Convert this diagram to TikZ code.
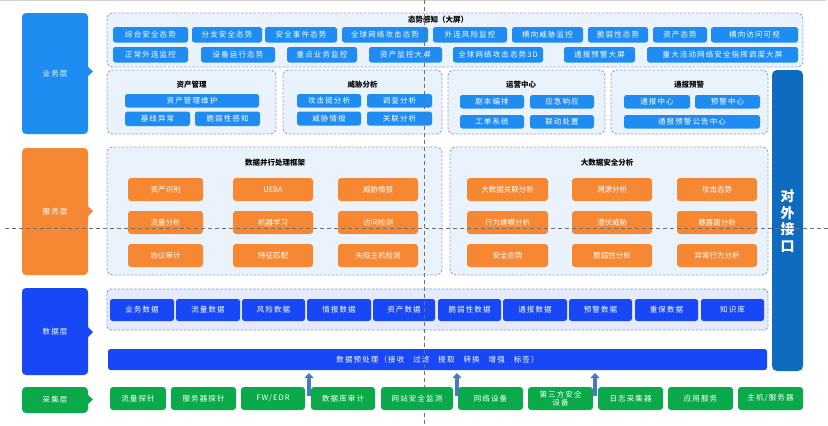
\documentclass[tikz,border=0pt]{standalone}
\usepackage{fontspec}
\setmainfont{Noto Sans CJK SC}
\newfontfamily\cjks[LetterSpace=15]{Noto Sans CJK SC}
\usetikzlibrary{arrows.meta}
\definecolor{tb}{HTML}{1E8CF0}
\definecolor{gfill}{HTML}{EAF3FC}
\definecolor{gdash}{HTML}{8EA9DB}
\definecolor{org}{HTML}{F78833}
\definecolor{db}{HTML}{1848F5}
\definecolor{dfill}{HTML}{E6EBFB}
\definecolor{ddash}{HTML}{7F98EE}
\definecolor{grn}{HTML}{0AAA4B}
\definecolor{itf}{HTML}{0E6BBE}
\definecolor{arr}{HTML}{4A78C2}
\definecolor{guide}{HTML}{707070}
\newcommand{\bx}[7]{%
  \pgfmathsetmacro{\bw}{#4-#2}\pgfmathsetmacro{\bh}{#5-#3}%
  \pgfmathsetmacro{\cxx}{(#2+#4)/2}\pgfmathsetmacro{\cyy}{(#3+#5)/2}%
  \node[#6, minimum width=\bw pt, minimum height=\bh pt] (#1) at (\cxx,\cyy) {#7};}
\tikzset{
  grp/.style={draw=gdash, dash pattern=on 2.5pt off 1.6pt, line width=0.9pt, fill=gfill, rounded corners=6pt, inner sep=0pt},
  dgrp/.style={draw=ddash, dash pattern=on 2.5pt off 1.6pt, line width=0.9pt, fill=dfill, rounded corners=4pt, inner sep=0pt},
  wtxt/.style={text=white, inner sep=0pt, align=center, font=\cjks\fontsize{7.5}{8.5}\selectfont},
  bb/.style={wtxt, fill=tb, rounded corners=2.5pt},
  ob/.style={fill=org, rounded corners=3pt, text=white, inner sep=0pt, font=\fontsize{7.5}{8.5}\selectfont},
  dbx/.style={wtxt, fill=db, rounded corners=2.5pt},
  gb/.style={wtxt, fill=grn, rounded corners=3pt},
  lay/.style={wtxt, rounded corners=4pt},
  ttl/.style={text=black, inner sep=0pt, font=\bfseries\fontsize{7.5}{8.5}\selectfont},
  uparrow/.style={draw=arr, line width=4pt, -{Triangle[width=9pt,length=5pt]}},
  guideline/.style={draw=guide, line width=0.9pt, dash pattern=on 4pt off 3pt}
}
\begin{document}
\begin{tikzpicture}[x=1pt,y=-1pt]
\useasboundingbox (0,0) rectangle (828,426);
\fill[white] (0,0) rectangle (828,426);
\fill[black!17] (0,0) rectangle (826,1.3);

% ---------- left layer labels ----------
\bx{L1}{22}{13}{88}{134}{lay, fill=tb}{业务层}
\fill[tb] (87,66) -- (93,71.5) -- (87,77) -- cycle;
\bx{L2}{22}{148}{88}{275}{lay, fill=org}{服务层}
\fill[org] (87,205) -- (93,211) -- (87,217) -- cycle;
\bx{L3}{22}{288}{88}{375}{lay, fill=db}{数据层}
\fill[db] (87,326) -- (93,332) -- (87,338) -- cycle;
\bx{L4}{22}{387}{88}{413}{lay, fill=grn}{采集层}
\fill[grn] (87,394) -- (93,399.5) -- (87,405) -- cycle;

% ---------- 对外接口 ----------
\bx{IF}{772}{70}{803}{371}{fill=itf, rounded corners=5pt, inner sep=0pt}{}
\node[text=white, align=center, font=\bfseries\fontsize{14}{16.7}\selectfont, inner sep=0pt] (IFt) at (787.5,221) {对\\外\\接\\口};

% ---------- 态势感知（大屏） ----------
\bx{G0}{107}{13}{803}{67}{grp}{}
\node[ttl] (G0t) at (438,20) {态势感知（大屏）};
\bx{t1}{113}{27}{188}{42.5}{bb}{综合安全态势}
\bx{t2}{192}{27}{262}{42.5}{bb}{分支安全态势}
\bx{t3}{265}{27}{337}{42.5}{bb}{安全事件态势}
\bx{t4}{342}{27}{428}{42.5}{bb}{全球网络攻击态势}
\bx{t5}{433}{27}{507}{42.5}{bb}{外连风险监控}
\bx{t6}{512}{27}{583}{42.5}{bb}{横向威胁监控}
\bx{t7}{588}{27}{648}{42.5}{bb}{脆弱性态势}
\bx{t8}{653}{27}{707}{42.5}{bb}{资产态势}
\bx{t9}{711}{27}{798}{42.5}{bb}{横向访问可视}
\bx{s1}{113}{47}{188}{62.5}{bb}{正常外连监控}
\bx{s2}{201}{47}{275}{62.5}{bb}{设备运行态势}
\bx{s3}{287}{47}{357}{62.5}{bb}{重点业务监控}
\bx{s4}{369}{47}{442}{62.5}{bb}{资产监控大屏}
\bx{s5}{453}{47}{543}{62.5}{bb}{全球网络攻击态势3D}
\bx{s6}{564}{47}{635}{62.5}{bb}{通报预警大屏}
\bx{s7}{647}{47}{798}{62.5}{bb}{重大活动网络安全指挥调度大屏}

% ---------- second row groups ----------
\bx{G1}{107}{70}{276}{134}{grp}{}
\node[ttl] (G1t) at (191.5,85) {资产管理};
\bx{a1}{125}{94}{259}{107.5}{bb}{资产管理维护}
\bx{a2}{125}{111.5}{190}{126}{bb}{基线异常}
\bx{a3}{195}{111.5}{260}{126}{bb}{脆弱性感知}

\bx{G2}{283}{70}{442}{134}{grp}{}
\node[ttl] (G2t) at (362.5,85) {威胁分析};
\bx{b1}{297}{94}{361}{107.5}{bb}{攻击链分析}
\bx{b2}{367}{94}{432}{107.5}{bb}{调查分析}
\bx{b3}{297}{111.5}{361}{125.5}{bb}{威胁情报}
\bx{b4}{367}{111.5}{432}{125.5}{bb}{关联分析}

\bx{G3}{448}{70}{605}{134}{grp}{}
\node[ttl] (G3t) at (521,85) {运营中心};
\bx{c1}{460}{95}{524}{108.5}{bb}{剧本编排}
\bx{c2}{530}{95}{594}{108.5}{bb}{应急响应}
\bx{c3}{460}{115}{524}{128.5}{bb}{工单系统}
\bx{c4}{530}{115}{594}{128.5}{bb}{联动处置}

\bx{G4}{611}{70}{768}{134}{grp}{}
\node[ttl] (G4t) at (689,85) {通报预警};
\bx{e1}{624}{95}{690}{108.5}{bb}{通报中心}
\bx{e2}{695}{95}{760}{108.5}{bb}{预警中心}
\bx{e3}{624}{115}{760}{128.5}{bb}{通报预警公告中心}

% ---------- service groups ----------
\bx{G5}{107}{147}{442}{275}{grp}{}
\node[ttl] (G5t) at (275,163) {数据并行处理框架};
\bx{f1}{128}{178}{203}{201}{ob}{资产识别}
\bx{f2}{233}{178}{313}{201}{ob}{UEBA}
\bx{f3}{338}{178}{418}{201}{ob}{威胁情报}
\bx{f4}{128}{211}{203}{234}{ob}{流量分析}
\bx{f5}{233}{211}{313}{234}{ob}{机器学习}
\bx{f6}{338}{211}{418}{234}{ob}{访问检测}
\bx{f7}{128}{244}{203}{267}{ob}{协议审计}
\bx{f8}{233}{244}{313}{267}{ob}{特征匹配}
\bx{f9}{338}{244}{418}{267}{ob}{失陷主机检测}

\bx{G6}{450}{147}{768}{275}{grp}{}
\node[ttl] (G6t) at (607,163) {大数据安全分析};
\bx{h1}{467}{178}{548}{201}{ob}{大数据关联分析}
\bx{h2}{572}{178}{652}{201}{ob}{溯源分析}
\bx{h3}{677}{178}{757}{201}{ob}{攻击态势}
\bx{h4}{467}{211}{548}{234}{ob}{行为建模分析}
\bx{h5}{572}{211}{652}{234}{ob}{潜伏威胁}
\bx{h6}{677}{211}{757}{234}{ob}{暴露面分析}
\bx{h7}{467}{244}{548}{267}{ob}{安全态势}
\bx{h8}{572}{244}{652}{267}{ob}{脆弱性分析}
\bx{h9}{677}{244}{757}{267}{ob}{异常行为分析}

% ---------- data layer ----------
\bx{G7}{107}{289}{768}{330}{dgrp}{}
\bx{d1}{110}{299}{174}{321}{dbx}{业务数据}
\bx{d2}{176}{299}{240}{321}{dbx}{流量数据}
\bx{d3}{242}{299}{305}{321}{dbx}{风险数据}
\bx{d4}{307}{299}{371}{321}{dbx}{情报数据}
\bx{d5}{373}{299}{435}{321}{dbx}{资产数据}
\bx{d6}{438}{299}{501}{321}{dbx}{脆弱性数据}
\bx{d7}{503}{299}{567}{321}{dbx}{通报数据}
\bx{d8}{569}{299}{632}{321}{dbx}{预警数据}
\bx{d9}{635}{299}{698}{321}{dbx}{重保数据}
\bx{d10}{701}{299}{764}{321}{dbx}{知识库}

\bx{P}{108}{349}{767}{370}{dbx}{数据预处理（接收\hspace{9pt}过滤\hspace{9pt}提取\hspace{9pt}转换\hspace{9pt}增强\hspace{9pt}标签）}

% ---------- collection layer ----------
\bx{k1}{110}{387}{166}{410}{gb}{流量探针}
\bx{k2}{171}{387}{236}{410}{gb}{服务器探针}
\bx{k3}{241}{387}{305}{410}{gb}{FW/EDR}
\bx{k4}{311}{387}{375}{410}{gb}{数据库审计}
\bx{k5}{381}{387}{453}{410}{gb}{网站安全监测}
\bx{k6}{458}{387}{523}{410}{gb}{网络设备}
\bx{k7}{528}{387}{593}{410}{gb}{第三方安全\\设备}
\bx{k8}{598}{387}{663}{410}{gb}{日志采集器}
\bx{k9}{668}{387}{733}{410}{gb}{应用服务}
\bx{k10}{738}{387}{803}{410}{gb}{主机/服务器}

% ---------- arrows ----------
\coordinate (ar1s) at (309,396); \coordinate (ar1e) at (309,373);
\coordinate (ar2s) at (457,396); \coordinate (ar2e) at (457,373);
\coordinate (ar3s) at (595,396); \coordinate (ar3e) at (595,373);
\draw[uparrow] (ar1s) -- (ar1e);
\draw[uparrow] (ar2s) -- (ar2e);
\draw[uparrow] (ar3s) -- (ar3e);

% ---------- guide lines ----------
\coordinate (gv1) at (424,0); \coordinate (gv2) at (424,426);
\coordinate (gh1) at (5,228); \coordinate (gh2) at (828,228);
\draw[guideline] (gv1) -- (gv2);
\draw[guideline] (gh1) -- (gh2);
\end{tikzpicture}
\end{document}
